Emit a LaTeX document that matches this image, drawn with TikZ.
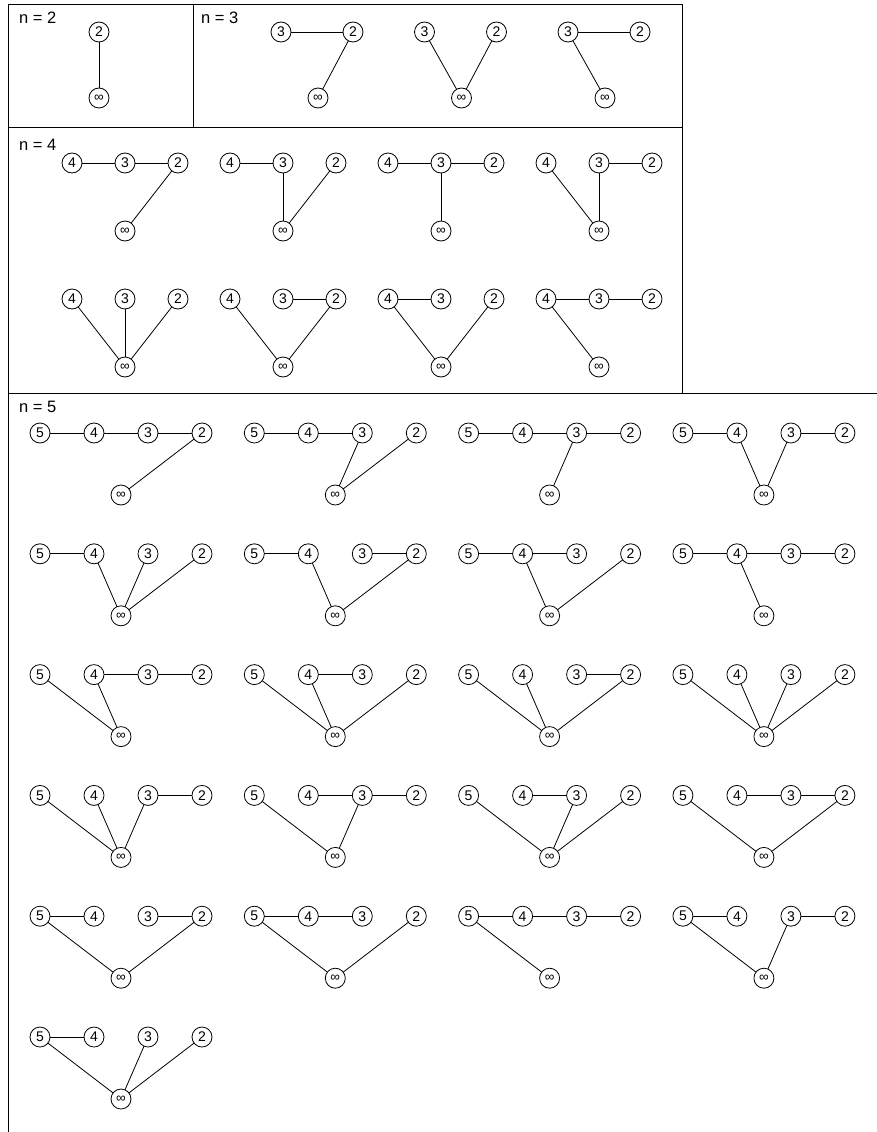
\documentclass[tikz,border=0pt]{standalone}
\usepackage{fontspec}
\setmainfont{Liberation Sans}
\usetikzlibrary{positioning,calc}

\begin{document}
\begin{tikzpicture}[
  x=1pt, y=-1pt,
  vtx/.style={circle, draw, line width=0.8pt, minimum size=20pt, inner sep=0pt, outer sep=0pt, font=\fontsize{14}{14}\selectfont},
  infvtx/.style={vtx, font=\fontsize{13.5}{13.5}\selectfont},
  nlabel/.style={anchor=west, inner sep=0pt, font=\fontsize{16.5}{16.5}\selectfont},
  edge/.style={line width=0.8pt},
  frame/.style={line width=0.9pt},
]
\useasboundingbox (0,0) rectangle (877,1132);

% Frames
\draw[frame] (8,1132) -- (8,4) -- (682,4) -- (682,393);
\draw[frame] (8,127) -- (682,127);
\draw[frame] (193,4) -- (193,127);
\draw[frame] (8,393) -- (877,393);

% n = 2
\node[nlabel] (lbl2) at (19,18) {n = 2};
\node[vtx] (b-2) at (99,32) {2};
\node[infvtx] (b-i) at (99,98) {∞};
\draw[edge] (b-2) -- (b-i);

% n = 3
\node[nlabel] (lbl3) at (201,18) {n = 3};
\begin{scope}[node distance=52pt]
\foreach \edges [count=\k from 0] in {{3/2,2/i}, {3/i,2/i}, {3/2,3/i}} {
  \node[vtx] (c\k-3) at (281+143.5*\k,32) {3};
  \node[vtx, right=of c\k-3] (c\k-2) {2};
  \node[infvtx] (c\k-i) at ($(c\k-3)!0.5!(c\k-2)+(1,66)$) {∞};
  \foreach \a/\b in \edges \draw[edge] (c\k-\a) -- (c\k-\b);
}
\end{scope}

% n = 4
\node[nlabel] (lbl4) at (19,145) {n = 4};
\begin{scope}[node distance=33pt]
\foreach \edges [count=\k from 0] in {
  {4/3,3/2,2/i}, {4/3,3/i,2/i}, {4/3,3/2,3/i}, {4/i,3/2,3/i},
  {4/i,3/i,2/i}, {4/i,3/2,2/i}, {4/3,4/i,2/i}, {4/3,3/2,4/i}} {
  \pgfmathsetmacro\cx{72+158*mod(\k,4)}
  \pgfmathsetmacro\cy{163+136*int(\k/4)}
  \node[vtx] (d\k-4) at (\cx,\cy) {4};
  \node[vtx, right=of d\k-4] (d\k-3) {3};
  \node[vtx, right=of d\k-3] (d\k-2) {2};
  \node[infvtx] (d\k-i) at ($(d\k-3)+(0,68)$) {∞};
  \foreach \a/\b in \edges \draw[edge] (d\k-\a) -- (d\k-\b);
}
\end{scope}

% n = 5
\node[nlabel] (lbl5) at (19,407) {n = 5};
\begin{scope}[node distance=34pt]
\foreach \edges [count=\k from 0] in {
  {5/4,4/3,3/2,2/i}, {5/4,4/3,3/i,2/i}, {5/4,4/3,3/2,3/i}, {5/4,4/i,3/2,3/i},
  {5/4,4/i,3/i,2/i}, {5/4,4/i,3/2,2/i}, {5/4,4/3,4/i,2/i}, {5/4,4/3,3/2,4/i},
  {5/i,4/i,4/3,3/2}, {5/i,4/3,4/i,2/i}, {5/i,4/i,3/2,2/i}, {5/i,4/i,3/i,2/i},
  {5/i,4/i,3/i,3/2}, {5/i,4/3,3/i,3/2}, {5/i,4/3,3/i,2/i}, {5/i,4/3,3/2,2/i},
  {5/4,5/i,3/2,2/i}, {5/4,4/3,5/i,2/i}, {5/4,4/3,3/2,5/i}, {5/4,5/i,3/2,3/i},
  {5/4,5/i,3/i,2/i}} {
  \pgfmathsetmacro\cx{40+214.3*mod(\k,4)}
  \pgfmathsetmacro\cy{433+120.8*int(\k/4)}
  \node[vtx] (f\k-5) at (\cx,\cy) {5};
  \node[vtx, right=of f\k-5] (f\k-4) {4};
  \node[vtx, right=of f\k-4] (f\k-3) {3};
  \node[vtx, right=of f\k-3] (f\k-2) {2};
  \node[infvtx] (f\k-i) at ($(f\k-4)!0.5!(f\k-3)+(0,62)$) {∞};
  \foreach \a/\b in \edges \draw[edge] (f\k-\a) -- (f\k-\b);
}
\end{scope}

\end{tikzpicture}
\end{document}
